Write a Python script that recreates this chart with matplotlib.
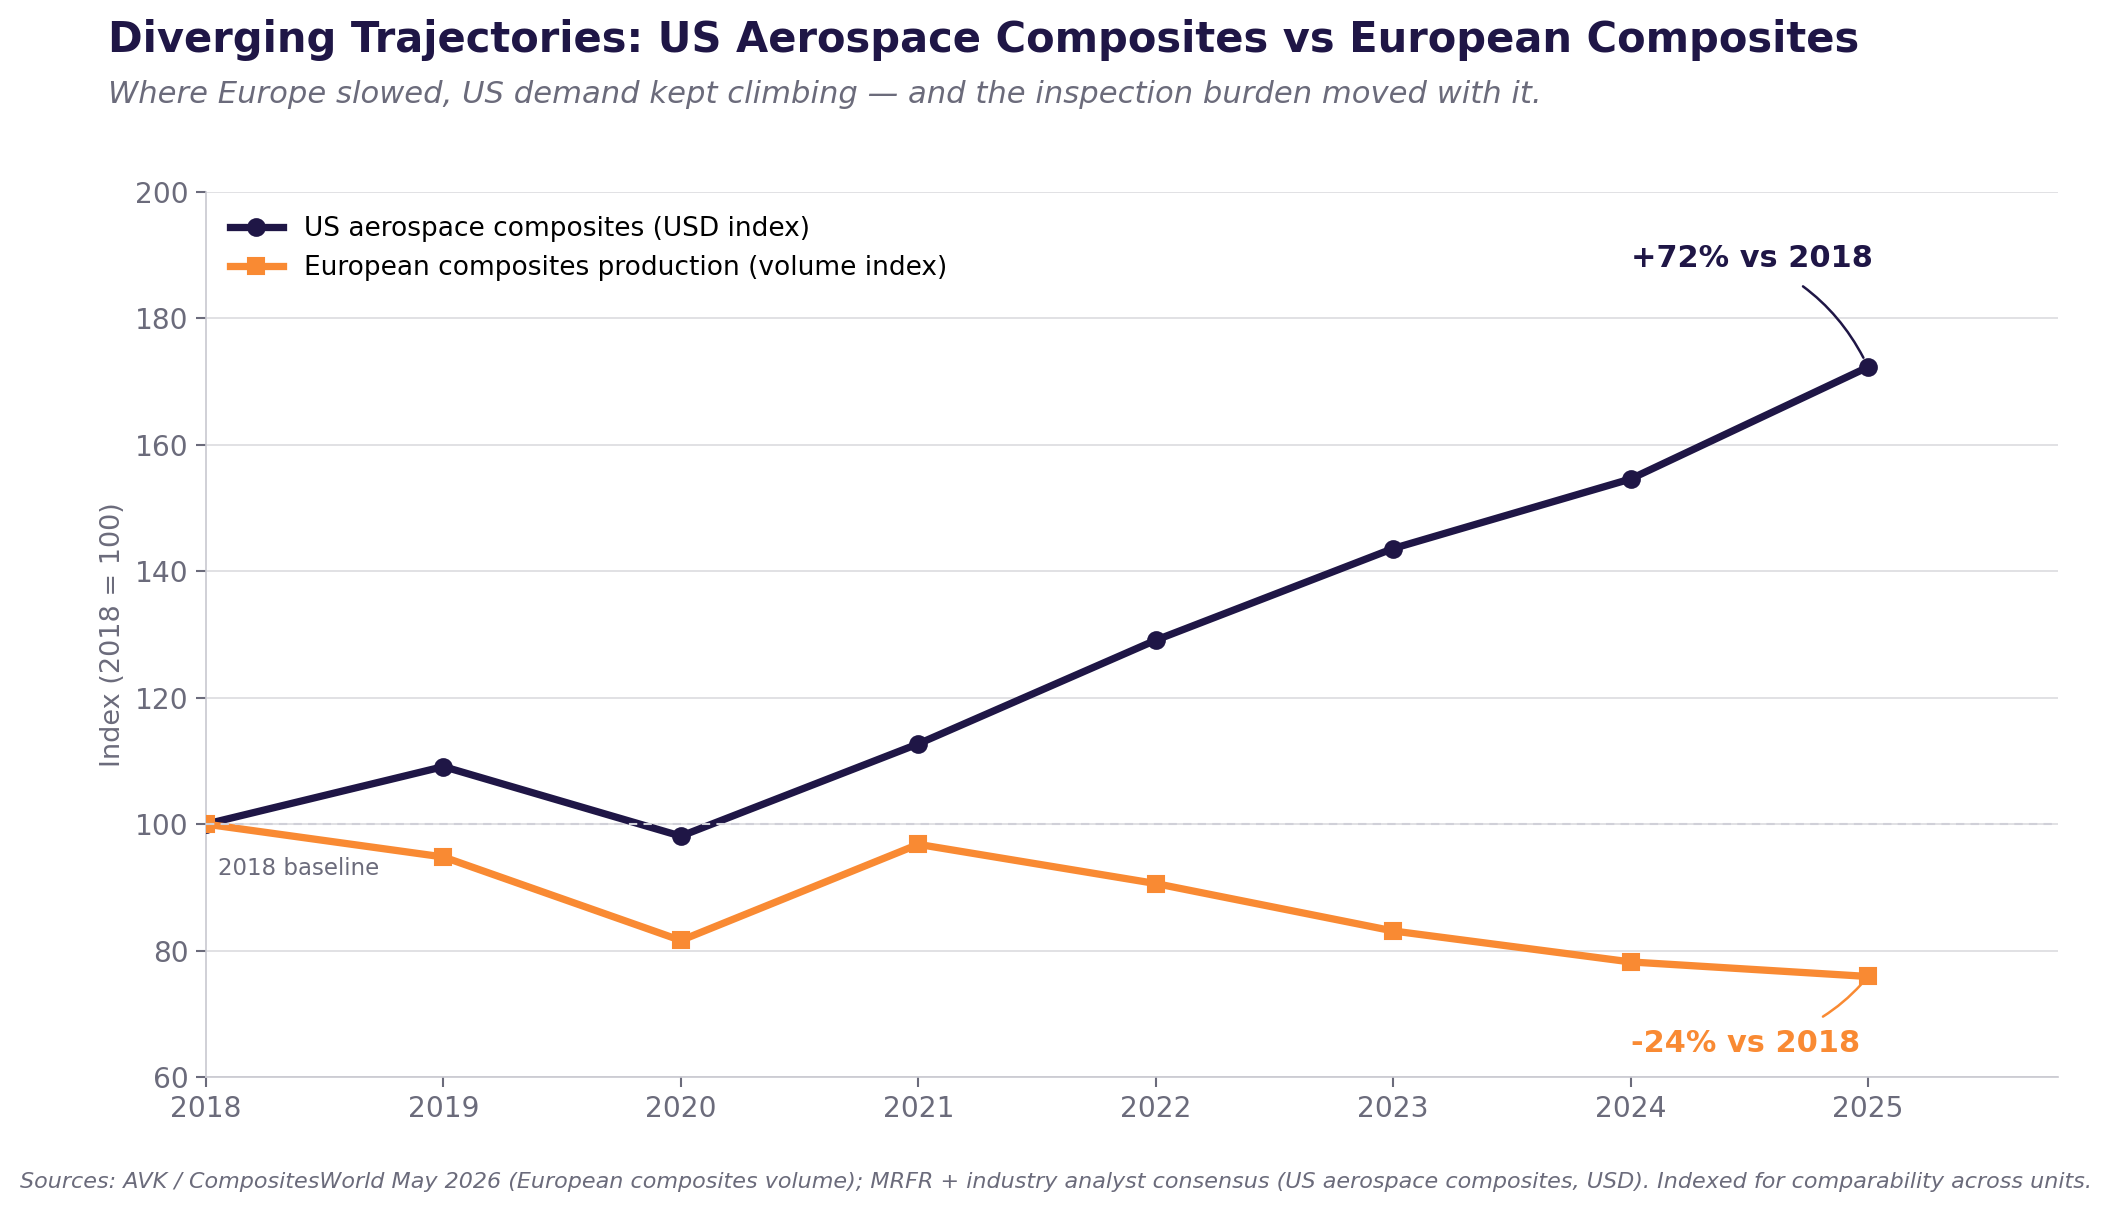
import matplotlib
matplotlib.use("Agg")
import matplotlib.pyplot as plt

# -- Data ----------------------------------------------------------------
years = [2018, 2019, 2020, 2021, 2022, 2023, 2024, 2025]
us_index = [100.0, 109.1, 98.1, 112.7, 129.1, 143.6, 154.6, 172.3]
eu_index = [100.0, 94.8, 81.6, 96.8, 90.6, 83.1, 78.2, 75.9]

us_label = "US aerospace composites (USD index)"
eu_label = "European composites production (volume index)"

# -- Style ---------------------------------------------------------------
navy = "#1f1646"
orange = "#f98a33"
grey = "#6b6b7b"
grid_c = "#dcdcdf"

fig = plt.figure(figsize=(14.08, 8.087), dpi=150)
ax = fig.add_axes([206/2112, 1 - 1077/1213, (2058-206)/2112, (1077-192)/1213])

ax.grid(axis="y", color=grid_c, lw=0.8, zorder=0)
ax.axhline(100, color="#d0d0d8", lw=1.0, ls=(0, (4, 3)), zorder=4)

ax.plot(years, us_index, color=navy, lw=3.5, marker="o", ms=8, label=us_label, zorder=3)
ax.plot(years, eu_index, color=orange, lw=3.5, marker="s", ms=8, label=eu_label, zorder=3)

ax.set_xlim(2018, 2025.8)
ax.set_ylim(60, 200)
ax.set_xticks(years)
ax.set_yticks(range(60, 201, 20))
ax.tick_params(colors=grey, labelsize=13.5, length=5, width=1)
for s in ["top", "right"]:
    ax.spines[s].set_visible(False)
for s in ["left", "bottom"]:
    ax.spines[s].set_color("#c8c8d0")
ax.set_ylabel("Index (2018 = 100)", color=grey, fontsize=13)

ax.text(2018.05, 93, "2018 baseline", color=grey, fontsize=11, va="center", ha="left")

ax.annotate(f"+{us_index[-1]-100:.0f}% vs 2018", xy=(years[-1], us_index[-1]),
            xytext=(2024, 189.5), color=navy, fontsize=14.6, fontweight="bold",
            ha="left", va="center",
            arrowprops=dict(arrowstyle="-", color=navy, lw=1.2,
                            connectionstyle="arc3,rad=-0.2", shrinkA=8, shrinkB=5))
ax.annotate(f"{eu_index[-1]-100:.0f}% vs 2018", xy=(years[-1], eu_index[-1]),
            xytext=(2024, 65.3), color=orange, fontsize=14.6, fontweight="bold",
            ha="left", va="center",
            arrowprops=dict(arrowstyle="-", color=orange, lw=1.2,
                            connectionstyle="arc3,rad=0.2", shrinkA=8, shrinkB=5))

leg = ax.legend(loc="upper left", frameon=False, fontsize=12.7, handlelength=2.0,
                bbox_to_anchor=(0.0, 1.0))

fig.text(108/2112, 1 - 40/1213, "Diverging Trajectories: US Aerospace Composites vs European Composites",
         color=navy, fontsize=20, fontweight="bold", ha="left", va="center")
fig.text(108/2112, 1 - 94/1213,
         "Where Europe slowed, US demand kept climbing \u2014 and the inspection burden moved with it.",
         color=grey, fontsize=14.7, style="italic", ha="left", va="center")
fig.text(0.5, 1 - 1182/1213,
         "Sources: AVK / CompositesWorld May 2026 (European composites volume); MRFR + industry analyst "
         "consensus (US aerospace composites, USD). Indexed for comparability across units.",
         color=grey, fontsize=10.7, style="italic", ha="center", va="center")

fig.savefig("out.png", dpi=150)
